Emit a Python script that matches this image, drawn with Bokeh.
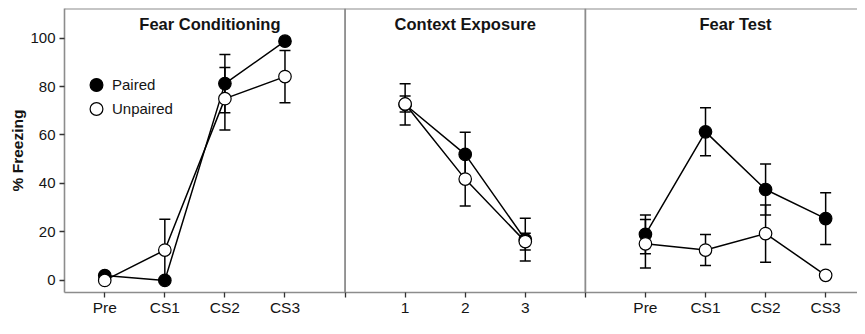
from bokeh.plotting import figure
from bokeh.models import (ColumnDataSource, Whisker, TeeHead, FixedTicker, Span,
                          Legend, LegendItem, Range1d)
from bokeh.embed import file_html
from bokeh.resources import INLINE
from bokeh.core.properties import value

# ---------------- data ----------------
panel_titles = ["Fear Conditioning", "Context Exposure", "Fear Test"]
panel_categories = [["Pre", "CS1", "CS2", "CS3"], ["1", "2", "3"], ["Pre", "CS1", "CS2", "CS3"]]

paired_mean = [[2, 0, 81.2, 98.7], [72.6, 52.0, 16.8], [19.0, 61.3, 37.5, 25.5]]
paired_sem = [[1, 0, 12.0, 1.0], [8.5, 9.1, 8.8], [8.0, 9.9, 10.5, 10.7]]
unpaired_mean = [[0, 12.5, 75.0, 84.1], [72.8, 41.8, 16.0], [15.1, 12.5, 19.3, 2.1]]
unpaired_sem = [[0.5, 12.7, 12.9, 10.8], [3.3, 11.1, 3.5], [10.0, 6.4, 11.8, 0.5]]

y_ticks = [0, 20, 40, 60, 80, 100]
y_label = "% Freezing"
series_labels = ["Paired", "Unpaired"]

# ---------------- layout ----------------
FONT = "Liberation Sans"
GREY = "#8c8c8c"
TXT = "#141414"
Y_TOP = 112.2

offsets = []
acc = 0
for cats in panel_categories:
    offsets.append(acc)
    acc += len(cats) + 1
boundaries = [offsets[i] + len(panel_categories[i]) + 1 for i in range(len(panel_categories) - 1)]
title_x = [2.75, 7.0, 11.5]

p = figure(width=857, height=318, output_backend="svg", toolbar_location=None,
           x_range=Range1d(0.33, 13.53), y_range=Range1d(-5.0, Y_TOP),
           min_border_left=64, min_border_right=0, min_border_top=8, min_border_bottom=25)
p.background_fill_color = "white"
p.border_fill_color = "white"
p.outline_line_color = None
p.xgrid.visible = False
p.ygrid.visible = False

# axes
ticks = []
overrides = {}
for i, cats in enumerate(panel_categories):
    for j, c in enumerate(cats):
        pos = offsets[i] + j + 1
        ticks.append(pos)
        overrides[pos] = c
for b in boundaries:
    ticks.append(b)
    overrides[b] = ""
p.xaxis.ticker = FixedTicker(ticks=sorted(ticks))
p.xaxis.major_label_overrides = overrides
p.yaxis.ticker = FixedTicker(ticks=y_ticks)
p.yaxis.axis_label = y_label

for ax in (p.xaxis[0], p.yaxis[0]):
    ax.axis_line_color = GREY
    ax.axis_line_width = 1.6
    ax.major_tick_line_color = "#333333"
    ax.major_tick_line_width = 1.3
    ax.major_tick_out = 5
    ax.major_tick_in = 0
    ax.minor_tick_line_color = None
    ax.major_label_text_font = FONT
    ax.major_label_text_color = TXT
p.xaxis.major_label_text_font_size = "15.5px"
p.yaxis.major_label_text_font_size = "15px"
p.xaxis.major_label_standoff = 1
p.yaxis.major_label_standoff = 4
p.yaxis.axis_label_text_font = FONT
p.yaxis.axis_label_text_font_size = "15.5px"
p.yaxis.axis_label_text_font_style = "bold"
p.yaxis.axis_label_text_color = TXT
p.yaxis.axis_label_standoff = 1

# panel separators and top border
for b in boundaries:
    p.add_layout(Span(location=b, dimension="height", line_color=GREY, line_width=1.8))
p.add_layout(Span(location=Y_TOP, dimension="width", line_color=GREY, line_width=2))

# panel titles
tsrc = ColumnDataSource(dict(x=title_x, y=[105.9] * 3, t=panel_titles))
p.text(x="x", y="y", text="t", source=tsrc, text_font=value(FONT), text_font_size="16.5px",
       text_font_style="bold", text_align="center", text_baseline="middle", text_color=TXT)


def series_source(means, sems):
    xs, ys, lo, hi = [], [], [], []
    for i, (m, s) in enumerate(zip(means, sems)):
        for j, (mv, sv) in enumerate(zip(m, s)):
            xs.append(offsets[i] + j + 1)
            ys.append(mv)
            lo.append(mv - sv)
            hi.append(mv + sv)
    return ColumnDataSource(dict(x=xs, y=ys, lower=lo, upper=hi))


def line_xs(means):
    return ([[offsets[i] + j + 1 for j in range(len(m))] for i, m in enumerate(means)],
            [list(m) for m in means])


src_p = series_source(paired_mean, paired_sem)
src_u = series_source(unpaired_mean, unpaired_sem)

for src in (src_p, src_u):
    w = Whisker(source=src, base="x", upper="upper", lower="lower", dimension="height",
                line_color="black", line_width=1.5,
                upper_head=TeeHead(size=11, line_color="black", line_width=1.5),
                lower_head=TeeHead(size=11, line_color="black", line_width=1.5))
    p.add_layout(w)

for means in (paired_mean, unpaired_mean):
    xs, ys = line_xs(means)
    p.multi_line(xs, ys, line_color="black", line_width=1.5)

r_p = p.scatter("x", "y", source=src_p, size=12.5, fill_color="black", line_color="black",
                line_width=1.2)
r_u = p.scatter("x", "y", source=src_u, size=12.5, fill_color="white", line_color="black",
                line_width=1.2)

# one legend per row so that rows can sit closer than the glyph box
for label, rend, loc in ((series_labels[0], r_p, (16, 191)), (series_labels[1], r_u, (16, 167))):
    lg = Legend(items=[LegendItem(label=label, renderers=[rend])],
                location=loc, orientation="vertical",
                background_fill_alpha=0, border_line_color=None,
                padding=0, margin=0, spacing=0,
                glyph_width=32, glyph_height=33, label_standoff=0,
                label_text_font=FONT, label_text_font_size="15px", label_text_color=TXT)
    p.add_layout(lg)

open("out.html", "w").write(file_html(p, INLINE))
